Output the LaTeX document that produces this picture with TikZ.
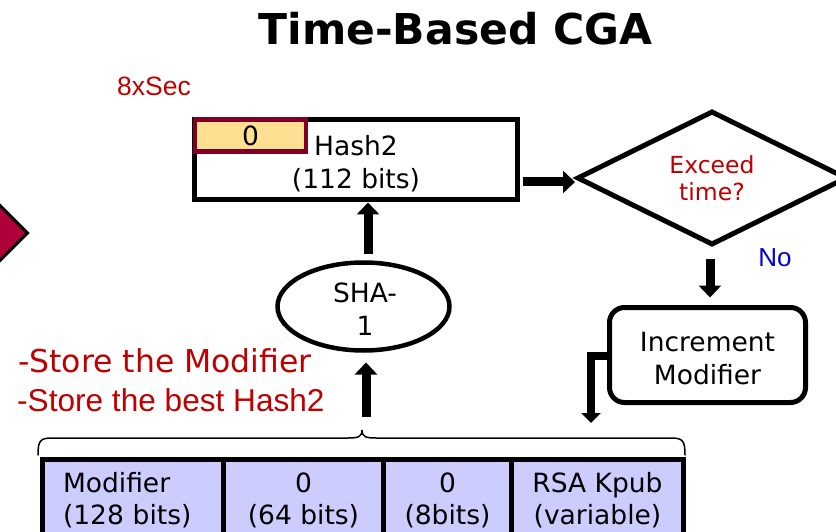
\documentclass[tikz,border=0pt]{standalone}
\usepackage{fontspec}
\setmainfont{DejaVu Sans}
\newfontfamily\arialfont{Liberation Sans}
\usetikzlibrary{arrows.meta,shapes.geometric}

\definecolor{txtred}{HTML}{C00000}
\definecolor{nolabel}{HTML}{0000D0}
\definecolor{crimsonfill}{HTML}{B0003A}
\definecolor{maroonedge}{HTML}{7F0025}
\definecolor{zerofill}{HTML}{FFDF91}
\definecolor{fieldfill}{HTML}{CCCCFF}

\begin{document}
\begin{tikzpicture}[x=1pt,y=-1pt,
  lbl/.style={inner sep=0pt,align=center,font=\fontsize{26.5}{33}\selectfont},
  box/.style={draw=black,line width=5pt,inner sep=0pt,outer sep=0pt},
  field/.style={box,fill=fieldfill,minimum height=82pt,anchor=north west,
    align=center,font=\fontsize{26.5}{32}\selectfont},
  blockarrow/.style={draw=black,line width=9pt,line join=miter,
    -{Triangle[width=22pt,length=12pt]}},
  thinarrow/.style={draw=black,line width=8pt,line join=miter,
    -{Triangle[width=19pt,length=10pt]}}
]
\useasboundingbox (0,0) rectangle (836,532);
\clip (0,0) rectangle (836,532);

% title
\node[name=title,anchor=base,inner sep=0pt,
  font=\fontsize{42.5}{50}\bfseries\selectfont] at (455.5,45) {Time-Based CGA};

% marker on the left edge
\node[name=prevmark,diamond,fill=crimsonfill,draw=black,line width=3pt,
  minimum width=120pt,minimum height=120pt,inner sep=0pt] at (-32,233) {};

% notes
\node[name=secnote,anchor=base,inner sep=0pt,text=txtred,
  font=\arialfont\fontsize{26.5}{30}\selectfont] at (154,96) {8xSec};
\node[name=storemod,anchor=base west,inner sep=0pt,text=txtred,
  font=\fontsize{31.5}{36}\selectfont] at (18,372) {-Store the Modifier};
\node[name=storehash,anchor=base west,inner sep=0pt,text=txtred,
  font=\arialfont\fontsize{31.6}{36}\selectfont] at (17,411) {-Store the best Hash2};

% Hash2 register
\node[name=hash,box,minimum width=323pt,minimum height=80pt] at (356,159.5) {};
\node[name=hashtxt,lbl] at (356,164) {Hash2\\(112 bits)};
\node[name=zero,box,draw=maroonedge,line width=4.5pt,fill=zerofill,
  minimum width=111pt,minimum height=32pt,
  font=\fontsize{26.5}{30}\selectfont] at (250.5,135.5) {0};

% decision
\node[name=exceed,diamond,draw=black,line width=5pt,inner sep=0pt,outer sep=0pt,
  minimum width=268pt,minimum height=132pt,align=center,text=txtred,
  font=\fontsize{23.5}{27}\selectfont] at (712,178) {Exceed\\time?};
\node[name=nolbl,inner sep=0pt,text=nolabel,
  font=\arialfont\fontsize{26}{30}\selectfont] at (775,258) {No};

% increment step
\node[name=incr,box,rounded corners=15pt,minimum width=196pt,minimum height=95pt]
  at (707.5,355) {};
\node[name=incrtxt,lbl] at (707.5,359) {Increment\\Modifier};

% hash function
\node[name=sha,ellipse,draw=black,line width=4.5pt,inner sep=0pt,outer sep=0pt,
  minimum width=172pt,minimum height=88pt] at (363.5,306.5) {};
\node[name=shatxt,lbl] at (365,309) {SHA-\\1};

% input fields
\node[name=fmod,field,minimum width=181pt,align=left,text width=140pt]
  at (42.5,459.5) {Modifier\\(128 bits)};
\node[name=fsixtyfour,field,minimum width=160pt] at (223.5,459.5) {0\\(64 bits)};
\node[name=feight,field,minimum width=128pt] at (383.5,459.5) {0\\(8bits)};
\node[name=fkey,field,minimum width=172pt] at (511.5,459.5) {RSA Kpub\\(variable)};

% brace over the fields
\coordinate (braceleft) at (38,455);
\coordinate (bracetip) at (362,430);
\coordinate (braceright) at (685,455);
\draw[line width=1.5pt,line cap=round]
  (braceleft) .. controls (38,441) and (40,438) .. (52,438) -- (348,438)
  .. controls (358,438) and (362,437) .. (bracetip)
  .. controls (362,437) and (366,438) .. (376,438) -- (671,438)
  .. controls (683,438) and (685,441) .. (braceright);

% connectors
\coordinate (modin) at (591,423);
\draw[blockarrow] ([xshift=5pt,yshift=-4pt]hash.east |- exceed.west)
  -- ([xshift=-3pt,yshift=-4pt]exceed.west);
\draw[blockarrow] ([xshift=-2pt,yshift=-15pt]exceed.south)
  -- ([xshift=2.5pt,yshift=10pt]incr.north);
\draw[thinarrow] ([yshift=-1pt]incr.west) -| (modin);
\draw[blockarrow] ([xshift=4.5pt,yshift=9pt]sha.north)
  -- ([xshift=4.5pt,yshift=-3pt]sha.north |- hash.south);
\draw[blockarrow] ([xshift=4pt,yshift=13pt]bracetip)
  -- ([xshift=2.5pt,yshift=-12pt]sha.south);
\end{tikzpicture}
\end{document}
